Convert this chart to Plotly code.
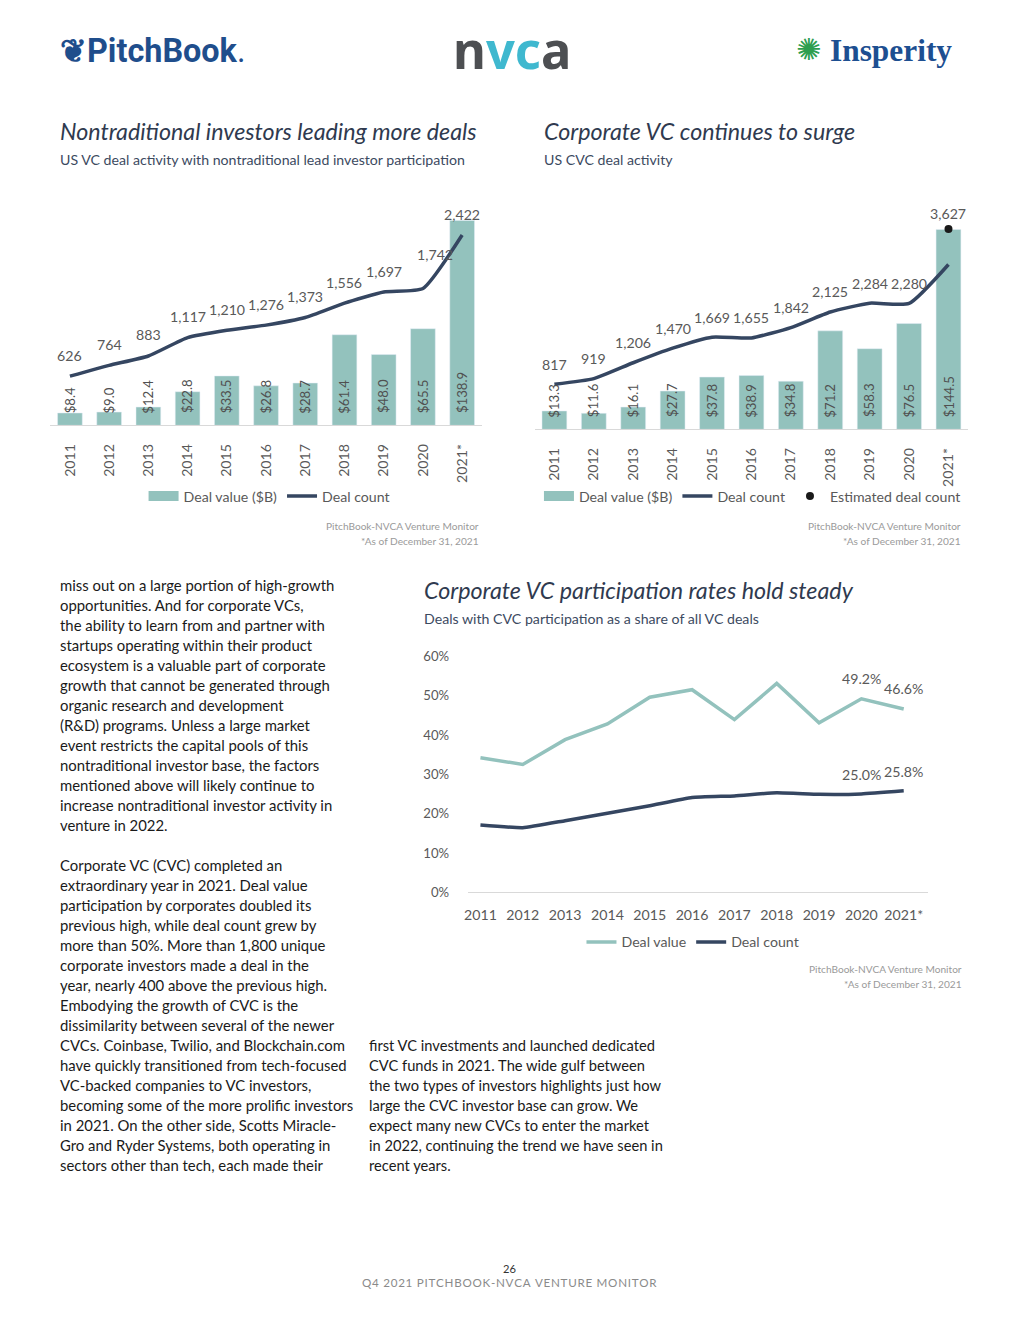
import plotly.graph_objects as go

# ---------------- data ----------------
years = ["2011", "2012", "2013", "2014", "2015", "2016", "2017", "2018", "2019", "2020", "2021*"]

# Chart 1: nontraditional investors
nt_value = [8.4, 9.0, 12.4, 22.8, 33.5, 26.8, 28.7, 61.4, 48.0, 65.5, 138.9]
nt_count = [626, 764, 883, 1117, 1210, 1276, 1373, 1556, 1697, 1742, 2422]

# Chart 2: corporate VC
cvc_value = [13.3, 11.6, 16.1, 27.7, 37.8, 38.9, 34.8, 71.2, 58.3, 76.5, 144.5]
cvc_count = [817, 919, 1206, 1470, 1669, 1655, 1842, 2125, 2284, 2280, 2985]
cvc_count_labels = ["817", "919", "1,206", "1,470", "1,669", "1,655", "1,842", "2,125", "2,284", "2,280", ""]
cvc_est_year = ["2021*"]
cvc_est_count = [3627]

# Chart 3: CVC participation rates (%)
part_value = [34.2, 32.5, 38.8, 42.8, 49.6, 51.5, 43.9, 53.1, 43.1, 49.2, 46.6]
part_count = [17.1, 16.4, 18.2, 20.1, 22.0, 24.1, 24.5, 25.3, 24.9, 25.0, 25.8]
part_value_labels = ["", "", "", "", "", "", "", "", "", "49.2%", "46.6%"]
part_count_labels = ["", "", "", "", "", "", "", "", "", "25.0%", "25.8%"]

body_left_1 = [
    "miss out on a large portion of high-growth",
    "opportunities. And for corporate VCs,",
    "the ability to learn from and partner with",
    "startups operating within their product",
    "ecosystem is a valuable part of corporate",
    "growth that cannot be generated through",
    "organic research and development",
    "(R&amp;D) programs. Unless a large market",
    "event restricts the capital pools of this",
    "nontraditional investor base, the factors",
    "mentioned above will likely continue to",
    "increase nontraditional investor activity in",
    "venture in 2022.",
]
body_left_2 = [
    "Corporate VC (CVC) completed an",
    "extraordinary year in 2021. Deal value",
    "participation by corporates doubled its",
    "previous high, while deal count grew by",
    "more than 50%. More than 1,800 unique",
    "corporate investors made a deal in the",
    "year, nearly 400 above the previous high.",
    "Embodying the growth of CVC is the",
    "dissimilarity between several of the newer",
    "CVCs. Coinbase, Twilio, and Blockchain.com",
    "have quickly transitioned from tech-focused",
    "VC-backed companies to VC investors,",
    "becoming some of the more prolific investors",
    "in 2021. On the other side, Scotts Miracle-",
    "Gro and Ryder Systems, both operating in",
    "sectors other than tech, each made their",
]
body_right = [
    "first VC investments and launched dedicated",
    "CVC funds in 2021. The wide gulf between",
    "the two types of investors highlights just how",
    "large the CVC investor base can grow. We",
    "expect many new CVCs to enter the market",
    "in 2022, continuing the trend we have seen in",
    "recent years.",
]

# ---------------- style ----------------
W, H = 1000, 1300
# the page is shown slightly offset and scaled; map reference pixels to figure pixels
OX, OY, SC = 14.5, 16.5, 0.988
TEAL = "#93c2bd"
NAVY = "#354661"
GRAY = "#595959"
LIGHT = "#9a9a9a"
TITLE = "#2f3a4f"
FONT = "Lato"


def px(x):
    return ((x - OX) / SC) / W


def py(y):
    return 1 - ((y - OY) / SC) / H


def fs(s):
    return round(s / SC, 2)


idx = list(range(len(years)))
fig = go.Figure()

# ---------- Chart 1 ----------
fig.add_trace(go.Bar(
    x=years, y=nt_value, xaxis="x", yaxis="y", name="Deal value ($B)",
    marker_color=TEAL, showlegend=False,
))
fig.add_trace(go.Scatter(x=years[:1], y=[None], xaxis="x", yaxis="y", name="Deal value ($B)",
                         mode="lines", line=dict(color=TEAL, width=10), legend="legend"))
fig.add_trace(go.Scatter(
    x=years, y=nt_count, xaxis="x", yaxis="y2", name="Deal count",
    mode="lines", line=dict(color=NAVY, width=3.5, shape="spline", smoothing=0.5),
    legend="legend",
))

# ---------- Chart 2 ----------
fig.add_trace(go.Bar(
    x=years, y=cvc_value, xaxis="x2", yaxis="y3", name="Deal value ($B)",
    marker_color=TEAL, showlegend=False,
))
fig.add_trace(go.Scatter(x=years[:1], y=[None], xaxis="x2", yaxis="y3", name="Deal value ($B)",
                         mode="lines", line=dict(color=TEAL, width=10), legend="legend2"))
fig.add_trace(go.Scatter(
    x=years, y=cvc_count, xaxis="x2", yaxis="y4", name="Deal count",
    mode="lines", line=dict(color=NAVY, width=3.5, shape="spline", smoothing=0.5),
    legend="legend2",
))
fig.add_trace(go.Scatter(
    x=cvc_est_year, y=cvc_est_count, xaxis="x2", yaxis="y4", name="Estimated deal count",
    mode="markers", marker=dict(color="#1a1a1a", size=8),
    legend="legend2",
))

# ---------- Chart 3 ----------
fig.add_trace(go.Scatter(
    x=idx, y=part_value, xaxis="x3", yaxis="y5", name="Deal value",
    mode="lines", line=dict(color=TEAL, width=3.5),
    legend="legend3",
))
fig.add_trace(go.Scatter(
    x=idx, y=part_count, xaxis="x3", yaxis="y5", name="Deal count",
    mode="lines", line=dict(color=NAVY, width=3.5, shape="spline", smoothing=0.4),
    legend="legend3",
))

tickfont = dict(family=FONT, size=fs(14), color=GRAY)
legfont = dict(family=FONT, size=fs(14), color=GRAY)

fig.update_layout(
    width=W, height=H, margin=dict(l=0, r=0, t=0, b=0),
    paper_bgcolor="white", plot_bgcolor="white",
    font=dict(family=FONT, color=GRAY),
    bargap=0.37,
    # chart 1 axes
    xaxis=dict(domain=[px(52.5), px(480.5)], anchor="y", type="category",
               categoryorder="array", categoryarray=years, range=[-0.5, 10.5],
               tickangle=-90, tickfont=tickfont, showline=True, linecolor="#d9d9d9",
               linewidth=1, ticks="", showgrid=False, ticklabelstandoff=12),
    yaxis=dict(domain=[py(426), py(200)], anchor="x", range=[0, 153.1], visible=False, showgrid=False),
    yaxis2=dict(overlaying="y", anchor="x", range=[0, 2875], visible=False, showgrid=False),
    # chart 2 axes
    xaxis2=dict(domain=[px(533), px(963)], anchor="y3", type="category",
                categoryorder="array", categoryarray=years, range=[-0.5, 10.5],
                tickangle=-90, tickfont=tickfont, showline=True, linecolor="#d9d9d9",
                linewidth=1, ticks="", showgrid=False, ticklabelstandoff=12),
    yaxis3=dict(domain=[py(430), py(200)], anchor="x2", range=[0, 166.2], visible=False, showgrid=False),
    yaxis4=dict(overlaying="y3", anchor="x2", range=[0, 4162], visible=False, showgrid=False),
    # chart 3 axes
    xaxis3=dict(domain=[px(467), px(923)], anchor="y5", range=[-0.29, 10.57],
                tickmode="array", tickvals=idx, ticktext=years,
                tickfont=tickfont, showline=True, linecolor="#d9d9d9", linewidth=1,
                ticks="", showgrid=False, zeroline=False, ticklabelstandoff=10),
    yaxis5=dict(domain=[py(893), py(657)], anchor="x3", range=[0, 60], dtick=10,
                ticksuffix="%", tickfont=dict(family=FONT, size=fs(13), color=GRAY),
                showgrid=False, zeroline=False, showline=False, ticks="", ticklabelstandoff=18),
    legend=dict(orientation="h", x=px(270), xanchor="center", y=py(497), yanchor="middle",
                font=legfont, bgcolor="rgba(0,0,0,0)", itemwidth=30, traceorder="normal"),
    legend2=dict(orientation="h", x=px(749), xanchor="center", y=py(497), yanchor="middle",
                 font=legfont, bgcolor="rgba(0,0,0,0)", itemwidth=30, traceorder="normal"),
    legend3=dict(orientation="h", x=px(690), xanchor="center", y=py(943), yanchor="middle",
                 font=legfont, bgcolor="rgba(0,0,0,0)", itemwidth=30, traceorder="normal"),
)

ann = []
lblfont = dict(family=FONT, size=fs(14), color=GRAY)
barfont = dict(family=FONT, size=fs(13), color="#505050")

# bar value labels, rotated, starting a little above each bar's base
for xa, ya, vals in [("x", "y", nt_value), ("x2", "y3", cvc_value)]:
    for i, v in enumerate(vals):
        ann.append(dict(x=i, y=0, xref=xa, yref=ya, text=f"${v:.1f}", showarrow=False,
                        textangle=-90, xanchor="center", yanchor="bottom", yshift=10,
                        font=barfont))

# data labels above the line points (category axes take the category index)
nudge1 = {9: (12, 34)}
for i, v in enumerate(nt_count):
    dx, dy = nudge1.get(i, (0, 21))
    ann.append(dict(x=i, y=v, xref="x", yref="y2", text=f"{v:,}", showarrow=False,
                    yshift=dy, xshift=dx, font=lblfont))
for i, (v, t) in enumerate(zip(cvc_count, cvc_count_labels)):
    if t:
        ann.append(dict(x=i, y=v, xref="x2", yref="y4", text=t, showarrow=False,
                        yshift=20, font=lblfont))
for yr, v in zip(cvc_est_year, cvc_est_count):
    ann.append(dict(x=years.index(yr), y=v, xref="x2", yref="y4", text=f"{v:,}",
                    showarrow=False, yshift=16, font=lblfont))
for i, (v, t) in enumerate(zip(part_value, part_value_labels)):
    if t:
        ann.append(dict(x=i, y=v, xref="x3", yref="y5", text=t, showarrow=False,
                        yshift=20, font=lblfont))
for i, (v, t) in enumerate(zip(part_count, part_count_labels)):
    if t:
        ann.append(dict(x=i, y=v, xref="x3", yref="y5", text=t, showarrow=False,
                        yshift=19, font=lblfont))


def text(x, y, s, size=14, color=GRAY, xanchor="left", family=FONT, italic=False, bold=False):
    ann.append(dict(
        x=px(x), y=py(y), xref="paper", yref="paper", text=s, showarrow=False,
        xanchor=xanchor, yanchor="middle",
        font=dict(family=family, size=fs(size), color=color,
                  style="italic" if italic else "normal",
                  weight="bold" if bold else "normal"),
    ))


# logos as text
text(60, 52, "<b>❦PitchBook</b>.", size=32, color="#1f4e8c", family="Roboto")
text(510, 50, "<b>n<span style='color:#3fb8cf'>vc</span>a</b>", size=50, color="#4d4f52",
     xanchor="center", family="Noto Sans")
text(805, 50, "✺", size=30, color="#2e9e4f", xanchor="center", family="DejaVu Sans")
text(824, 51, "<b>Insperity</b>", size=31, color="#1d4f91", family="Liberation Serif")

# chart titles
text(60, 132, "Nontraditional investors leading more deals", size=23, color=TITLE, italic=True)
text(60, 160, "US VC deal activity with nontraditional lead investor participation", size=14, color="#3c4a5f")
text(540, 132, "Corporate VC continues to surge", size=23, color=TITLE, italic=True)
text(540, 160, "US CVC deal activity", size=14, color="#3c4a5f")
text(421, 591, "Corporate VC participation rates hold steady", size=23, color=TITLE, italic=True)
text(421, 619, "Deals with CVC participation as a share of all VC deals", size=14, color="#3c4a5f")

# sources
for xr, y0 in [(480, 527), (958, 527), (959, 970)]:
    text(xr, y0, "PitchBook-NVCA Venture Monitor", size=10, color=LIGHT, xanchor="right")
    text(xr, y0 + 15, "*As of December 31, 2021", size=10, color=LIGHT, xanchor="right")

# body text
for i, line in enumerate(body_left_1):
    text(60, 586 + 20 * i, line, size=14.7, color="#1a1a1a")
for i, line in enumerate(body_left_2):
    text(60, 866 + 20 * i, line, size=14.7, color="#1a1a1a")
for i, line in enumerate(body_right):
    text(367, 1046 + 20 * i, line, size=14.5, color="#1a1a1a")

# footer
text(508, 1269, "26", size=11, color="#333333", xanchor="center")
footer = "Q4 2021 PITCHBOOK-NVCA VENTURE MONITOR"
text(508, 1283, "\u200a".join(footer), size=11.5, color="#8a8a8a", xanchor="center")

fig.update_layout(annotations=ann)

fig.write_html("out.html")
